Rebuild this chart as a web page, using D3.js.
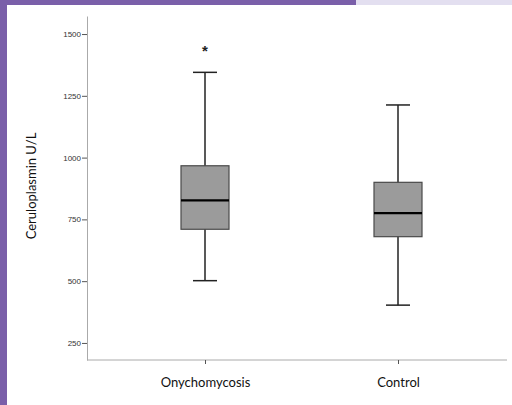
<!DOCTYPE html>
<html>
<head>
<meta charset="utf-8">
<script src="https://cdn.jsdelivr.net/npm/d3@7"></script>
<style>
  body { margin: 0; background: #fff; }
  svg { display: block; }
</style>
</head>
<body>
<div id="chart"></div>
<script>
// box plot values
const groups = ["Onychomycosis", "Control"];
const whiskerLow = [502, 403];
const q1 = [710, 680];
const median = [827, 775];
const q3 = [967, 900];
const whiskerHigh = [1345, 1213];
const outliers = [[1439], []];
const yTicks = [250, 500, 750, 1000, 1250, 1500];

const W = 512, H = 405;
const svg = d3.select("#chart").append("svg")
    .attr("width", W)
    .attr("height", H);

// purple frame
svg.append("rect").attr("x", 0).attr("y", 0).attr("width", 7).attr("height", H).attr("fill", "#7a5fa9");
svg.append("rect").attr("x", 0).attr("y", 0).attr("width", 356).attr("height", 5).attr("fill", "#7a5fa9");
svg.append("rect").attr("x", 356).attr("y", 0).attr("width", W - 356).attr("height", 5).attr("fill", "#e3dff0");

const y = d3.scaleLinear().domain([181, 1573]).range([360, 16]);
const x = d3.scalePoint().domain(groups).range([205, 398]);
const boxW = 48, capW = 24;

// y axis
const yAxis = svg.append("g")
    .attr("transform", "translate(87,0)")
    .call(d3.axisLeft(y).tickValues(yTicks).tickFormat(d3.format("d"))
      .tickSize(5).tickPadding(1).tickSizeOuter(0));
yAxis.select(".domain").attr("stroke", "#aaa");
yAxis.selectAll(".tick line").attr("stroke", "#555");
yAxis.selectAll(".tick text")
    .style("font-family", "Liberation Sans, Arial, sans-serif")
    .style("font-size", "8px")
    .attr("fill", "#333");

// x axis
svg.append("line")
    .attr("x1", 87).attr("x2", 507)
    .attr("y1", 360).attr("y2", 360)
    .attr("stroke", "#aaa");
const xAxis = svg.append("g")
    .attr("transform", "translate(0,360)")
    .call(d3.axisBottom(x).tickSize(4).tickPadding(14).tickSizeOuter(0));
xAxis.select(".domain").remove();
xAxis.selectAll(".tick line").attr("stroke", "#555");
xAxis.selectAll(".tick text")
    .style("font-family", "Lato, 'Open Sans', sans-serif")
    .style("font-size", "13px")
    .attr("fill", "#111");

// y label
svg.append("text")
    .attr("transform", "translate(36,186) rotate(-90)")
    .attr("text-anchor", "middle")
    .style("font-family", "Lato, 'Open Sans', sans-serif")
    .style("font-size", "13px")
    .attr("fill", "#111")
    .text("Ceruloplasmin U/L");

const boxes = svg.append("g").selectAll("g")
    .data(groups)
  .enter().append("g");

// whiskers
boxes.append("line")
    .attr("x1", d => x(d)).attr("x2", d => x(d))
    .attr("y1", (d, i) => y(whiskerHigh[i]))
    .attr("y2", (d, i) => y(whiskerLow[i]))
    .attr("stroke", "#222").attr("stroke-width", 1.5);
boxes.selectAll(".cap")
    .data((d, i) => [whiskerLow[i], whiskerHigh[i]].map(v => ({g: d, v: v})))
  .enter().append("line")
    .attr("x1", d => x(d.g) - capW / 2).attr("x2", d => x(d.g) + capW / 2)
    .attr("y1", d => y(d.v)).attr("y2", d => y(d.v))
    .attr("stroke", "#222").attr("stroke-width", 1.5);

// box
boxes.append("rect")
    .attr("x", d => x(d) - boxW / 2)
    .attr("width", boxW)
    .attr("y", (d, i) => y(q3[i]))
    .attr("height", (d, i) => y(q1[i]) - y(q3[i]))
    .attr("fill", "#9b9b9b")
    .attr("stroke", "#4a4a4a")
    .attr("stroke-width", 1.2);

// median
boxes.append("line")
    .attr("x1", d => x(d) - boxW / 2).attr("x2", d => x(d) + boxW / 2)
    .attr("y1", (d, i) => y(median[i])).attr("y2", (d, i) => y(median[i]))
    .attr("stroke", "#000").attr("stroke-width", 2.2);

// extreme outliers
boxes.selectAll(".out")
    .data((d, i) => outliers[i].map(v => ({g: d, v: v})))
  .enter().append("text")
    .attr("x", d => x(d.g))
    .attr("y", d => y(d.v) + 7)
    .attr("text-anchor", "middle")
    .style("font-family", "Liberation Sans, Arial, sans-serif")
    .style("font-size", "15px")
    .style("font-weight", "bold")
    .attr("fill", "#222")
    .text("*");
</script>
</body>
</html>
